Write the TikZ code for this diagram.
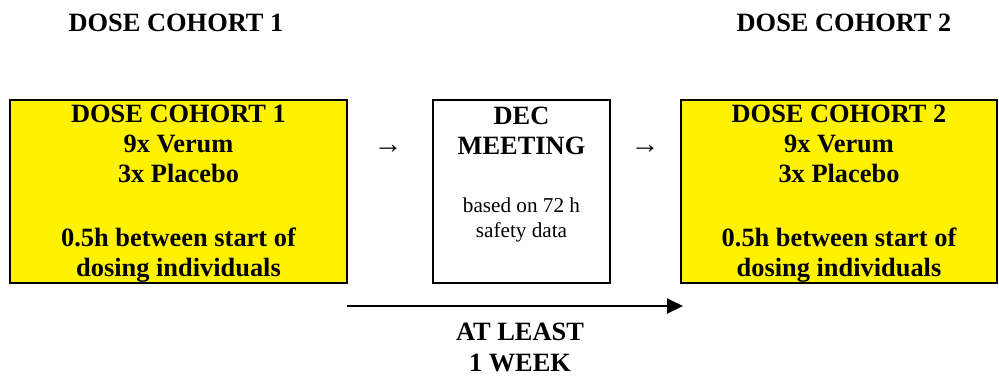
\documentclass[tikz,border=0pt]{standalone}
\usepackage{fontspec}
\setmainfont{Liberation Serif}
\usepackage{tikz}
\usetikzlibrary{arrows.meta, positioning}

\newcommand{\toppad}{\rule{0pt}{11pt}}

\begin{document}
\begin{tikzpicture}[x=0.5pt, y=-0.5pt]
    \tikzstyle{cohort} = [rectangle, minimum height=91.5pt, draw=black, line width=1pt, fill=yellow, align=center, inner sep=0pt, font=\fontsize{13.2}{15.1}\selectfont\bfseries]
    \tikzstyle{meeting} = [rectangle, minimum width=88.5pt, minimum height=91.5pt, draw=black, line width=1pt, fill=white]
    \tikzstyle{heading} = [align=center, inner sep=0pt, font=\fontsize{13.2}{15.1}\selectfont\bfseries]
    \tikzstyle{note} = [align=center, inner sep=0pt, font=\fontsize{10.6}{12.5}\selectfont]
    \tikzstyle{arrow} = [line width=1pt, -{Triangle[length=8pt, width=7.5pt]}]

    \useasboundingbox (0,0) rectangle (999,376);

    \node (title1) [heading] at (176,22.5) {DOSE COHORT 1};
    \node (title2) [heading] at (844,22.5) {DOSE COHORT 2};

    \node (cohort1) [cohort, minimum width=168.5pt] at (178.5,191.5) {\toppad DOSE COHORT 1\\9x Verum\\3x Placebo\\[16.6pt]0.5h between start of\\dosing individuals};
    \node (dec) [meeting, right=42pt of cohort1] {};
    \node (cohort2) [cohort, minimum width=158pt, right=34.5pt of dec] {\toppad DOSE COHORT 2\\9x Verum\\3x Placebo\\[16.6pt]0.5h between start of\\dosing individuals};

    \node (dectitle) [heading] at (521.5,130.5) {DEC\\MEETING};
    \node (decnote) [note] at (521.5,220) {based on 72 h\\safety data};

    \node (step1) [font=\fontsize{14.5}{15.1}\selectfont] at (388,149) {→};
    \node (step2) [font=\fontsize{14.5}{15.1}\selectfont] at (645,149) {→};

    \coordinate (weekstart) at (347,306);
    \coordinate (weekend) at (683,306);
    \draw [arrow] (weekstart) -- (weekend);
    \node (weeklabel) [heading] at (520,347.5) {AT LEAST\\1 WEEK};
\end{tikzpicture}
\end{document}
